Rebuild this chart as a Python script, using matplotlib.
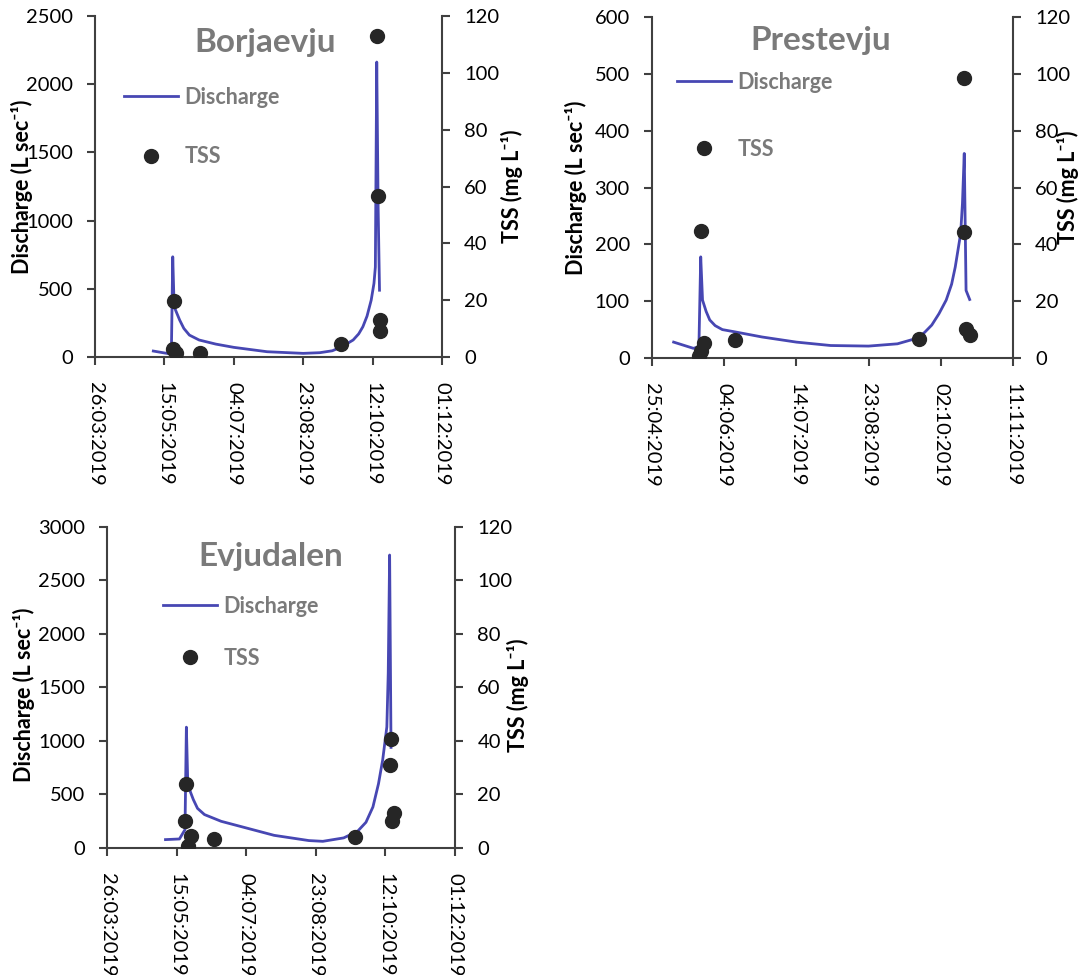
import matplotlib
matplotlib.use('Agg')
import matplotlib.pyplot as plt
import pandas as pd

plt.rcParams['font.family'] = ['Lato', 'DejaVu Sans']

# ---- Borjaevju ----
borj_q_dates = ["2019-05-07", "2019-05-15", "2019-05-20", "2019-05-21", "2019-05-22",
                "2019-05-24", "2019-05-26", "2019-05-29", "2019-06-02", "2019-06-09",
                "2019-06-21", "2019-07-04", "2019-07-28", "2019-08-23", "2019-09-04",
                "2019-09-13", "2019-09-20", "2019-09-28", "2019-10-02", "2019-10-05",
                "2019-10-08", "2019-10-11", "2019-10-13", "2019-10-14", "2019-10-15",
                "2019-10-16", "2019-10-17"]
borj_q = [44, 30, 22, 735, 370, 320, 271, 210, 161, 125, 95, 71, 39, 27, 32,
          46, 76, 125, 170, 222, 300, 417, 540, 660, 2163, 1100, 490]
borj_tss_dates = ["2019-05-21", "2019-05-22", "2019-05-23", "2019-06-10", "2019-09-19",
                  "2019-10-15", "2019-10-16", "2019-10-17", "2019-10-17"]
borj_tss = [3, 19.7, 1.5, 1.5, 4.5, 113, 56.6, 13, 9.1]
borj_ticks = ["2019-03-26", "2019-05-15", "2019-07-04", "2019-08-23", "2019-10-12", "2019-12-01"]

# ---- Prestevju ----
pres_q_dates = ["2019-05-07", "2019-05-18", "2019-05-21", "2019-05-22", "2019-05-23",
                "2019-05-25", "2019-05-27", "2019-05-30", "2019-06-03", "2019-06-10",
                "2019-06-25", "2019-07-14", "2019-08-02", "2019-08-23", "2019-09-08",
                "2019-09-19", "2019-09-23", "2019-09-27", "2019-10-01", "2019-10-05",
                "2019-10-08", "2019-10-10", "2019-10-13", "2019-10-14", "2019-10-15",
                "2019-10-16", "2019-10-18"]
pres_q = [28, 17, 20, 178, 102, 82, 67, 57, 50, 46, 37, 28, 22, 21, 25,
          35, 45, 58, 78, 102, 130, 160, 219, 272, 360, 119, 103]
pres_tss_dates = ["2019-05-21", "2019-05-22", "2019-05-22", "2019-05-24", "2019-06-10",
                  "2019-09-20", "2019-10-15", "2019-10-15", "2019-10-16", "2019-10-18"]
pres_tss = [0.8, 44.8, 2.5, 5.4, 6.5, 6.6, 98.7, 44.2, 10.1, 8.0]
pres_ticks = ["2019-04-25", "2019-06-04", "2019-07-14", "2019-08-23", "2019-10-02", "2019-11-11"]

# ---- Evjudalen ----
evju_q_dates = ["2019-05-07", "2019-05-17", "2019-05-21", "2019-05-22", "2019-05-23",
                "2019-05-25", "2019-05-27", "2019-05-30", "2019-06-04", "2019-06-16",
                "2019-07-04", "2019-07-24", "2019-08-18", "2019-08-28", "2019-09-12",
                "2019-09-22", "2019-09-28", "2019-10-03", "2019-10-07", "2019-10-10",
                "2019-10-13", "2019-10-14", "2019-10-15", "2019-10-16"]
evju_q = [78, 84, 171, 1129, 608, 520, 452, 370, 312, 249, 187, 118, 69, 62, 94,
          156, 240, 383, 600, 822, 1131, 1636, 2738, 940]
evju_tss_dates = ["2019-05-21", "2019-05-22", "2019-05-23", "2019-05-25", "2019-06-11",
                  "2019-09-20", "2019-10-15", "2019-10-16", "2019-10-17", "2019-10-18"]
evju_tss = [10, 24, 0.6, 4.4, 3.5, 4.1, 31.2, 40.8, 10, 13.1]
evju_ticks = borj_ticks

LINE_C = '#4747b3'
DOT_C = '#262626'
AXIS_C = '#404040'
GREY = '#7a7a7a'


def panel(fig, rect, q_dates, q, tss_dates, tss, ticks, qmax, qstep, title,
          title_xy, leg_xy, leg_space, ylab_x, y2lab_x, lab_y):
    ax = fig.add_axes(rect)
    ax2 = ax.twinx()
    line, = ax.plot(pd.to_datetime(q_dates), q, color=LINE_C, lw=2)
    sc = ax2.scatter(pd.to_datetime(tss_dates), tss, s=100, color=DOT_C, zorder=3)

    tk = pd.to_datetime(ticks)
    ax.set_xlim(tk[0], tk[-1])
    ax.set_xticks(tk)
    ax.set_xticklabels([t.strftime('%d:%m:%Y') for t in tk], rotation=-90)
    ax.set_ylim(0, qmax)
    ax.set_yticks(range(0, qmax + 1, qstep))
    ax2.set_ylim(0, 120)
    ax2.set_yticks(range(0, 121, 20))

    for a in (ax, ax2):
        for s in a.spines.values():
            s.set_color(AXIS_C)
            s.set_linewidth(1.5)
        a.spines['top'].set_visible(False)
        a.tick_params(direction='out', length=6, width=1.5, color=AXIS_C,
                      labelsize=14.5, pad=10)
    ax.tick_params(axis='x', pad=12)
    ax.spines['right'].set_visible(False)
    ax2.spines['left'].set_visible(False)
    ax2.spines['bottom'].set_visible(False)

    ax.set_ylabel('Discharge (L sec\u207b\u00b9)', fontsize=15.5, fontweight='bold')
    ax.yaxis.label.set_va('center')
    ax.yaxis.set_label_coords(ylab_x, lab_y)
    ax2.set_ylabel('TSS (mg L\u207b\u00b9)', fontsize=15.5, fontweight='bold')
    ax2.yaxis.label.set_va('center')
    ax2.yaxis.set_label_coords(y2lab_x, lab_y)

    ax.text(title_xy[0], title_xy[1], title, transform=ax.transAxes, ha='center',
            va='baseline', fontsize=24, fontweight='bold', color=GREY)

    ax2.legend([line, sc], ['Discharge', 'TSS'], loc='upper left', bbox_to_anchor=leg_xy,
               frameon=False, borderpad=0, borderaxespad=0, handlelength=2.5,
               handletextpad=0.3, labelspacing=leg_space, scatterpoints=1,
               scatteryoffsets=[0.5], prop={'weight': 'bold', 'size': 15.5},
               labelcolor=GREY)
    return ax


fig = plt.figure(figsize=(10.91, 9.75), dpi=100)

panel(fig, [0.0871, 0.6338, 0.318, 0.3497], borj_q_dates, borj_q, borj_tss_dates, borj_tss,
      borj_ticks, 2500, 500, 'Borjaevju', (0.49, 0.894), (0.084, 0.793), 1.79,
      -0.21, 1.202, 0.5)
panel(fig, [0.5976, 0.6328, 0.3309, 0.3497], pres_q_dates, pres_q, pres_tss_dates, pres_tss,
      pres_ticks, 600, 100, 'Prestevju', (0.468, 0.903), (0.069, 0.839), 2.14,
      -0.211, 1.152, 0.5)
panel(fig, [0.0981, 0.1303, 0.319, 0.3292], evju_q_dates, evju_q, evju_tss_dates, evju_tss,
      evju_ticks, 3000, 500, 'Evjudalen', (0.471, 0.878), (0.161, 0.785), 1.44,
      -0.239, 1.181, 0.477)

fig.savefig('out.png', dpi=100)
